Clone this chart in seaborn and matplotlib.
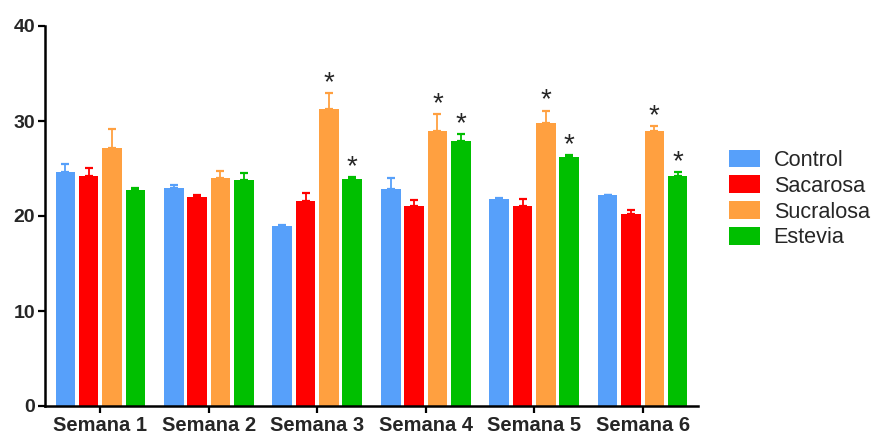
import matplotlib
matplotlib.use("Agg")
import matplotlib.pyplot as plt
import matplotlib.patches as mpatches
import seaborn as sns
import pandas as pd
import numpy as np

# ── Data ───────────────────────────────────────────────────────────────────────
weeks = ["Semana 1", "Semana 2", "Semana 3", "Semana 4", "Semana 5", "Semana 6"]
groups = ["Control", "Sacarosa", "Sucralosa", "Estevia"]

control   = [24.6, 23.0, 19.0, 22.8, 21.8, 22.2]
sacarosa  = [24.2, 22.0, 21.6, 21.1, 21.1, 20.2]
sucralosa = [27.2, 24.0, 31.3, 29.0, 29.8, 29.0]
estevia   = [22.7, 23.8, 23.9, 27.9, 26.2, 24.2]

control_err   = [0.85, 0.25, 0.10, 1.15, 0.06, 0.06]
sacarosa_err  = [0.85, 0.20, 0.80, 0.55, 0.70, 0.40]
sucralosa_err = [2.00, 0.70, 1.60, 1.70, 1.30, 0.45]
estevia_err   = [0.30, 0.70, 0.18, 0.70, 0.20, 0.38]

# significance marks (True = asterisk above the bar)
sucralosa_sig = [False, False, True, True, True, True]
estevia_sig   = [False, False, True, True, True, True]

palette = {
    "Control":   "#57A0FA",
    "Sacarosa":  "#FF0000",
    "Sucralosa": "#FFA040",
    "Estevia":   "#00BF00",
}

values = {"Control": control, "Sacarosa": sacarosa,
          "Sucralosa": sucralosa, "Estevia": estevia}
errors = {"Control": control_err, "Sacarosa": sacarosa_err,
          "Sucralosa": sucralosa_err, "Estevia": estevia_err}
sigs = {"Control": [False] * 6, "Sacarosa": [False] * 6,
        "Sucralosa": sucralosa_sig, "Estevia": estevia_sig}

rows = []
for g in groups:
    for w, v in zip(weeks, values[g]):
        rows.append({"Semana": w, "Grupo": g, "Valor": v})
df = pd.DataFrame(rows)

# ── Plot ───────────────────────────────────────────────────────────────────────
sns.set_style("white")
plt.rcParams["font.family"] = ["Liberation Sans", "DejaVu Sans"]

fig = plt.figure(figsize=(8.77, 4.34), dpi=100)
ax = fig.add_axes([45 / 877, 1 - 406 / 434, (698 - 45) / 877, (406 - 26) / 434])

sns.barplot(
    data=df, x="Semana", y="Valor",
    hue="Grupo", hue_order=groups, order=weeks,
    palette=palette, saturation=1,
    errorbar=None,
    width=0.86, gap=0.16,
    linewidth=0,
    ax=ax,
)

# upper-only error bars and asterisks, positioned from the drawn bars
for g, cont in zip(groups, ax.containers):
    xs = [p.get_x() + p.get_width() / 2 for p in cont.patches]
    ys = values[g]
    errs = errors[g]
    ax.errorbar(xs, ys, yerr=[np.zeros(len(errs)), errs],
                fmt="none", ecolor=palette[g], elinewidth=1.3,
                capsize=3, capthick=1.6, zorder=1)
    for x, y, e, s in zip(xs, ys, errs, sigs[g]):
        if s:
            ax.annotate("*", (x, y + e), xytext=(0, -2),
                        textcoords="offset points",
                        ha="center", va="bottom", fontsize=20)

if ax.get_legend() is not None:
    ax.get_legend().remove()

ax.set_ylim(0, 40)
ax.set_xlim(-0.51, 5.51)
ax.set_yticks([0, 10, 20, 30, 40])
ax.set_xlabel("")
ax.set_ylabel("")

for side in ["top", "right"]:
    ax.spines[side].set_visible(False)
for side in ["left", "bottom"]:
    ax.spines[side].set_linewidth(1.8)
    ax.spines[side].set_color("black")

ax.tick_params(axis="both", which="major", direction="out", length=5,
               width=1.6, color="black", pad=2, left=True, bottom=True)
ax.tick_params(axis="x", labelsize=14.5)
ax.tick_params(axis="y", labelsize=14)
for lbl in ax.get_xticklabels() + ax.get_yticklabels():
    lbl.set_fontweight("bold")

handles = [mpatches.Patch(facecolor=palette[g], edgecolor="none", label=g)
           for g in groups]
fig.legend(handles=handles, loc="center left",
           bbox_to_anchor=(718 / 877, 1 - 199 / 434),
           frameon=False, fontsize=15.6,
           handlelength=1.45, handleheight=0.85,
           handletextpad=0.62, labelspacing=0.22, borderpad=0)

fig.savefig("out.png", dpi=100)
